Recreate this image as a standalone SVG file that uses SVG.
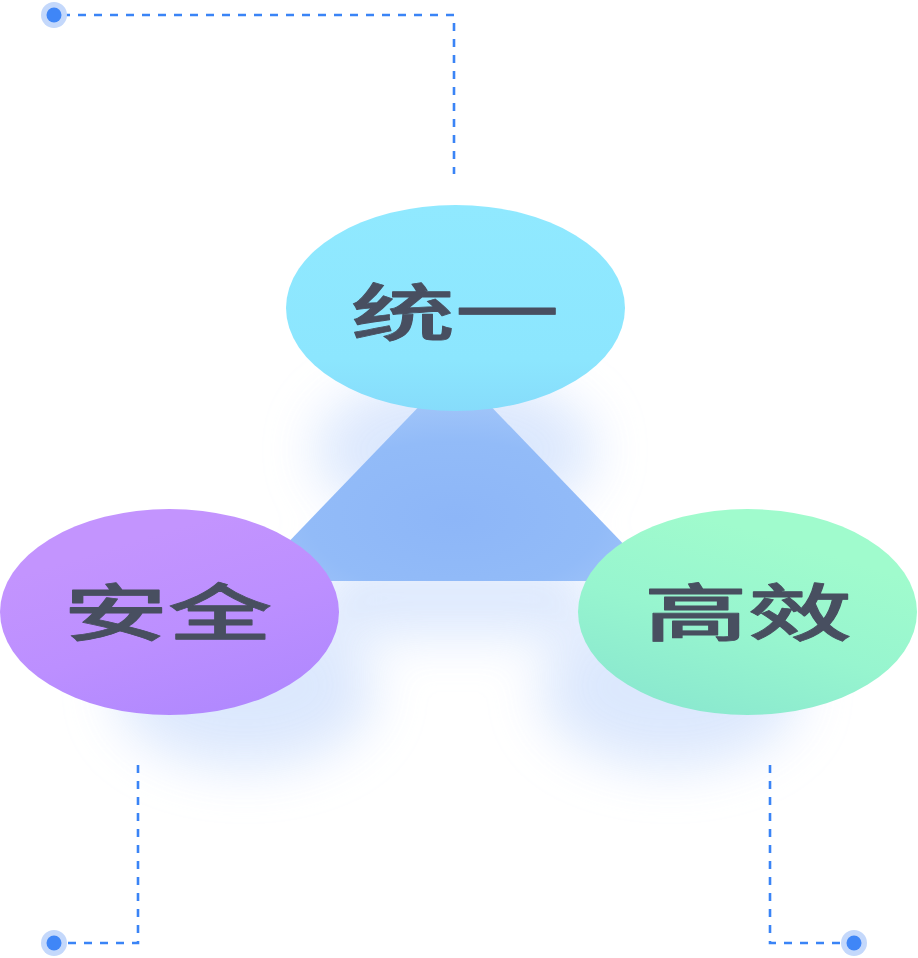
<svg xmlns="http://www.w3.org/2000/svg" width="918" height="958" viewBox="0 0 918 958">
<defs>
<filter id="glow" x="-50%" y="-50%" width="200%" height="200%"><feGaussianBlur stdDeviation="26"/></filter>
<linearGradient id="gTop" x1="0" y1="0" x2="0" y2="1"><stop offset="0" stop-color="#90e9ff"/><stop offset="0.75" stop-color="#8ce6fe"/><stop offset="1" stop-color="#86dcfb"/></linearGradient>
<linearGradient id="gLeft" x1="0.3" y1="0.2" x2="0.7" y2="1"><stop offset="0" stop-color="#c394fe"/><stop offset="0.5" stop-color="#bc8fff"/><stop offset="1" stop-color="#b088fe"/></linearGradient>
<linearGradient id="gRight" x1="0.7" y1="0.2" x2="0.3" y2="1"><stop offset="0" stop-color="#a0fbcd"/><stop offset="0.5" stop-color="#97f5cf"/><stop offset="1" stop-color="#8ae8cf"/></linearGradient>
<radialGradient id="gTri" cx="0.5" cy="0.7" r="0.6"><stop offset="0" stop-color="#8db6f8"/><stop offset="0.6" stop-color="#92bbf8"/><stop offset="1" stop-color="#a5c8f9"/></radialGradient>
<style>
.dash{fill:none;stroke:#3a84f6;stroke-width:2.6;stroke-dasharray:8 8}
.halo{fill:#c4d8fb}
.dot{fill:#3f86f7}
.lbl{font-family:"Noto Sans CJK SC","Noto Sans",sans-serif;font-weight:500;font-size:62px;fill:#484f60;stroke:#484f60;stroke-width:0.8;stroke-linejoin:round;text-anchor:middle;dominant-baseline:central}
</style>
</defs>
<rect width="918" height="958" fill="#ffffff"/>
<g id="glow-layer" filter="url(#glow)" fill="#d6e4fd" opacity="0.85">
<ellipse cx="245" cy="690" rx="130" ry="78"/>
<ellipse cx="670" cy="690" rx="130" ry="78"/>
<ellipse cx="455" cy="450" rx="140" ry="75"/>
<rect x="320" y="560" width="270" height="75"/>
</g>
<g id="connectors">
<polyline class="dash" points="62,15 454,15 454,174"/>
<polyline class="dash" points="138,765 138,943 62,943"/>
<polyline class="dash" points="770,765 770,943 846,943"/>
<circle class="halo" cx="54" cy="15" r="13"/><circle class="dot" cx="54" cy="15" r="7.5"/>
<circle class="halo" cx="54" cy="943" r="13"/><circle class="dot" cx="54" cy="943" r="7.5"/>
<circle class="halo" cx="854" cy="943" r="13"/><circle class="dot" cx="854" cy="943" r="7.5"/>
</g>
<g id="triangle"><polygon points="455,369 251,581 659,581" fill="url(#gTri)"/></g>
<g id="node-top">
<ellipse cx="455.5" cy="308" rx="169.5" ry="103" fill="url(#gTop)"/>
<text class="lbl" transform="translate(455,309) scale(1.68,1)">统一</text>
</g>
<g id="node-left">
<ellipse cx="169.5" cy="612" rx="169.5" ry="103" fill="url(#gLeft)"/>
<text class="lbl" transform="translate(168,609) scale(1.68,1)">安全</text>
</g>
<g id="node-right">
<ellipse cx="747.5" cy="612" rx="169.5" ry="103" fill="url(#gRight)"/>
<text class="lbl" transform="translate(748,609) scale(1.68,1)">高效</text>
</g>
</svg>
